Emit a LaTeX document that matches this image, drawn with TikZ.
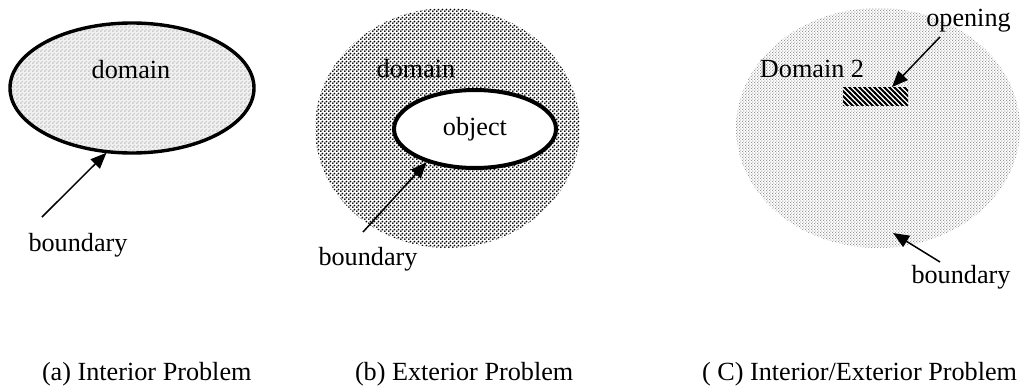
\documentclass[tikz,border=0pt]{standalone}
\usepackage{fontspec}
\setmainfont{Liberation Serif}
\usetikzlibrary{shapes.geometric,arrows.meta,patterns,calc}

\pgfdeclarepatternformonly{adots}{\pgfqpoint{0pt}{0pt}}{\pgfqpoint{4pt}{4pt}}{\pgfqpoint{4pt}{4pt}}{%
  \pgfpathrectangle{\pgfqpoint{0.1pt}{0.1pt}}{\pgfqpoint{1.8pt}{1.8pt}}%
  \pgfpathrectangle{\pgfqpoint{2.1pt}{2.1pt}}{\pgfqpoint{1.8pt}{1.8pt}}%
  \pgfusepath{fill}}
\pgfdeclarepatternformonly{bdots}{\pgfqpoint{0pt}{0pt}}{\pgfqpoint{4pt}{4pt}}{\pgfqpoint{4pt}{4pt}}{%
  \pgfpathcircle{\pgfqpoint{1pt}{1pt}}{1.22pt}%
  \pgfpathcircle{\pgfqpoint{3pt}{3pt}}{1.22pt}%
  \pgfusepath{fill}}
\pgfdeclarepatternformonly{cdots}{\pgfqpoint{0pt}{0pt}}{\pgfqpoint{3.2pt}{3.2pt}}{\pgfqpoint{3.2pt}{3.2pt}}{%
  \pgfpathcircle{\pgfqpoint{0.8pt}{0.8pt}}{0.62pt}%
  \pgfpathcircle{\pgfqpoint{2.4pt}{2.4pt}}{0.62pt}%
  \pgfusepath{fill}}
\pgfdeclarepatternformonly{hatchnw}{\pgfqpoint{-1pt}{-1pt}}{\pgfqpoint{6pt}{6pt}}{\pgfqpoint{5pt}{5pt}}{%
  \pgfsetlinewidth{1.9pt}%
  \pgfpathmoveto{\pgfqpoint{-1pt}{6pt}}\pgfpathlineto{\pgfqpoint{6pt}{-1pt}}%
  \pgfusepath{stroke}}

\begin{document}
\begin{tikzpicture}[x=1pt,y=-1pt,
  every node/.style={font=\fontsize{26.2}{30}\selectfont, inner sep=0pt, outer sep=0pt},
  arr/.style={-{Triangle[length=16pt,width=13pt]}, line width=1.5pt},
  lbl/.style={anchor=base},
  captxt/.style={anchor=base west}]
\useasboundingbox (0,0) rectangle (1024,388);

% ---------- (a) ----------
\node[ellipse, draw, line width=3.4pt, minimum width=244pt, minimum height=130pt,
      preaction={fill=gray!10}, pattern=adots, pattern color=gray!40] (domA) at (132,88) {};
\node[lbl] (tDomA) at (131,78) {domain};
\node[lbl] (tBndA) at (78,251) {boundary};
\coordinate (sA) at (42,217);
\draw[arr, shorten >=1.5pt] (sA) -- (domA.-111);

% ---------- (b) ----------
\node[ellipse, minimum width=265pt, minimum height=240pt,
      pattern=bdots, pattern color=black] (domB) at (447.5,128) {};
\node[ellipse, draw, line width=4pt, fill=white, minimum width=162pt, minimum height=78pt] (inB) at (475,129) {};
\node[lbl] (tObj) at (475,135) {object};
\node[lbl] (tDomB) at (416,77) {domain};
\node[lbl] (tBndB) at (368,265) {boundary};
\coordinate (sB) at (363,232);
\draw[arr, shorten >=2pt] (sB) -- (inB.-146);

% ---------- (c) ----------
\node[ellipse, minimum width=284pt, minimum height=240pt,
      pattern=cdots, pattern color=gray!55!black] (domC) at (878,128) {};
\node[lbl] (tDomC) at (812,77) {Domain 2};
\node[minimum width=65pt, minimum height=18pt, preaction={fill=white},
      pattern=hatchnw, pattern color=black] (open) at (875.5,96) {};
\node[lbl] (tOpen) at (968.5,26) {opening};
\coordinate (sO) at (940,37);
\draw[arr] (sO) -- ([xshift=16.5pt]open.north);
\node[lbl] (tBndC) at (961,283) {boundary};
\coordinate (sC) at (940,262);
\coordinate (eC) at (893,233);
\draw[arr] (sC) -- (eC);

% ---------- captions ----------
\node[captxt] (capA) at (42,380) {(a) Interior Problem};
\node[captxt] (capB) at (355,380) {(b) Exterior Problem};
\node[captxt] (capC) at (702,380) {( C) Interior/Exterior Problem};
\end{tikzpicture}
\end{document}
